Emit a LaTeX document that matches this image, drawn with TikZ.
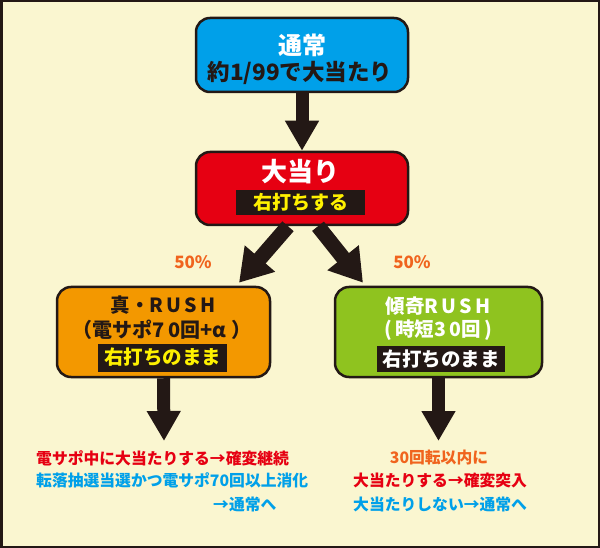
\documentclass[tikz,border=0pt]{standalone}
\usepackage{fontspec}
\newfontfamily\jp{Noto Sans CJK JP}
\usetikzlibrary{arrows.meta,calc}
\definecolor{bgc}{HTML}{FAF6D0}
\definecolor{ink}{HTML}{231815}
\definecolor{cyanbox}{HTML}{00A0E9}
\definecolor{redbox}{HTML}{E60012}
\definecolor{orangebox}{HTML}{F39800}
\definecolor{greenbox}{HTML}{8FC31F}
\definecolor{yel}{HTML}{FFF100}
\definecolor{pct}{HTML}{F0641E}
\definecolor{bluetxt}{HTML}{00A0E9}
\definecolor{redtxt}{HTML}{E60012}
\newcommand{\fs}[1]{\fontsize{#1}{#1}\selectfont}
\begin{document}
\begin{tikzpicture}[x=1pt,y=-1pt,font=\jp\bfseries,
  box/.style={draw=ink,line width=2.5pt,rounded corners=14pt,inner sep=0pt},
  band/.style={fill=ink,inner sep=0pt,minimum width=129pt,minimum height=27pt},
  txt/.style={inner sep=0pt},
  bigarrow/.style={draw=ink,line width=13pt,-{Triangle[width=32pt,length=30pt]}},
  diagarrow/.style={draw=ink,line width=15pt,-{Triangle[width=38pt,length=32pt]}}]
\useasboundingbox (0,0) rectangle (600,548);
\path[fill=bgc,draw=ink,line width=5pt] (0,0) rectangle (600,548);

% boxes
\node[box,fill=cyanbox,minimum width=212pt,minimum height=74pt] (tsujo) at (302,55) {};
\node[box,fill=redbox,minimum width=212pt,minimum height=73pt] (atari) at (302,188.5) {};
\node[box,fill=orangebox,minimum width=213pt,minimum height=90pt] (shin) at (163.5,332) {};
\node[box,fill=greenbox,minimum width=207pt,minimum height=90pt] (kabuki) at (438.5,332) {};

% texts in boxes
\node[txt,text=white,font=\jp\bfseries\fs{24}] (t1) at (302,45) {通常};
\node[txt,text=ink,font=\jp\bfseries\fs{22.5}] (t2) at (300,73) {約1/99で大当たり};
\node[txt,text=white,font=\jp\bfseries\fs{26}] (a1) at (300,172) {大当り};
\node[band,minimum height=25pt] (a2) at (300.5,202.5) {};
\node[txt,text=yel,font=\jp\bfseries\fs{19}] (a2t) at (a2) {右打ちする};

\node[txt,text=ink,font=\jp\bfseries\fs{19.5}] (s1) at (163,305) {真・R\,U\,S\,H};
\node[txt,text=ink,font=\jp\bfseries\fs{20}] (s2) at (162,330) {（電サポ7\,0回+α ）};
\node[band,minimum height=28pt] (s3) at (162.5,357.5) {};
\node[txt,text=yel,font=\jp\bfseries\fs{19.5}] (s3t) at (s3) {右打ちのまま};

\node[txt,text=white,font=\jp\bfseries\fs{19.5}] (k1) at (438,306) {傾奇R\,U\,S\,H};
\node[txt,text=white,font=\jp\bfseries\fs{19.5}] (k2) at (438,330) {(\,時短3\,0回\,)};
\node[band,minimum width=128pt,minimum height=26pt] (k3) at (441,359) {};
\node[txt,text=white,font=\jp\bfseries\fs{19.5}] (k3t) at (k3) {右打ちのまま};

% percentages
\node[txt,text=pct,font=\jp\bfseries\fs{17}] (p1) at (193,262) {50\%};
\node[txt,text=pct,font=\jp\bfseries\fs{17}] (p2) at (412,262) {50\%};

% result texts
\coordinate (lend) at (164,441);
\coordinate (rend) at (438.5,441);
\node[txt,anchor=west,text=redtxt,font=\jp\bfseries\fs{15.8}] (l1) at (36,458) {電サポ中に大当たりする→確変継続};
\node[txt,anchor=west,text=bluetxt,font=\jp\bfseries\fs{15.8}] (l2) at (36,480) {転落抽選当選かつ電サポ70回以上消化};
\node[txt,anchor=west,text=bluetxt,font=\jp\bfseries\fs{15.8}] (l3) at (213,504) {→通常へ};
\node[txt,text=pct,font=\jp\bfseries\fs{15.8}] (r1) at (439,458) {30回転以内に};
\node[txt,anchor=west,text=redtxt,font=\jp\bfseries\fs{15.8}] (r2) at (353,481) {大当たりする→確変突入};
\node[txt,anchor=west,text=bluetxt,font=\jp\bfseries\fs{15.8}] (r3) at (353,504) {大当たりしない→通常へ};

% arrows
\draw[bigarrow] (tsujo.south) -- (atari.north);
\draw[diagarrow] ($(atari.south)+(-14,0)$) -- ($(shin.north)+(75.5,-3)$);
\draw[diagarrow] ($(atari.south)+(16,0)$) -- ($(kabuki.north)+(-75.5,-3)$);
\draw[bigarrow] (shin.south) -- (lend);
\draw[bigarrow] (kabuki.south) -- (rend);
\end{tikzpicture}
\end{document}
